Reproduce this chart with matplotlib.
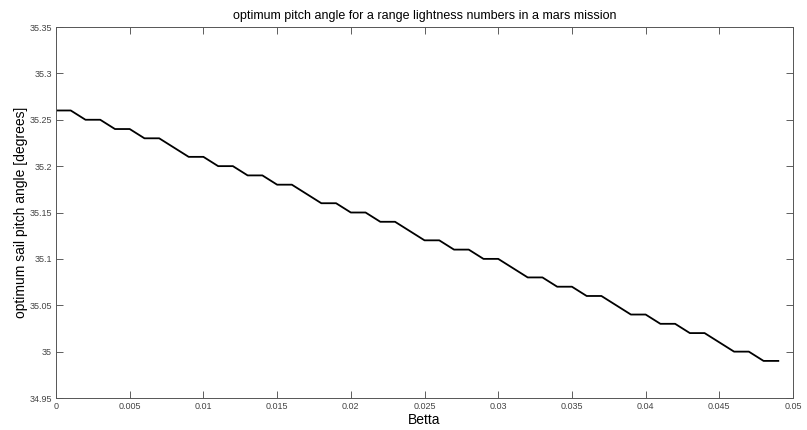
import numpy as np
import matplotlib.pyplot as plt

# lightness number and optimum pitch angle (rounded to 0.01 deg)
betta = np.arange(0, 0.050, 0.001)
pitch = np.array([35.26, 35.26, 35.25, 35.25, 35.24, 35.24, 35.23, 35.23, 35.22, 35.21,
                  35.21, 35.20, 35.20, 35.19, 35.19, 35.18, 35.18, 35.17, 35.16, 35.16,
                  35.15, 35.15, 35.14, 35.14, 35.13, 35.12, 35.12, 35.11, 35.11, 35.10,
                  35.10, 35.09, 35.08, 35.08, 35.07, 35.07, 35.06, 35.06, 35.05, 35.04,
                  35.04, 35.03, 35.03, 35.02, 35.02, 35.01, 35.00, 35.00, 34.99, 34.99])

xticks = np.arange(0, 0.0501, 0.005)
xtick_labels = ['0', '0.005', '0.01', '0.015', '0.02', '0.025', '0.03', '0.035', '0.04', '0.045', '0.05']
yticks = np.arange(34.95, 35.351, 0.05)
ytick_labels = ['34.95', '35', '35.05', '35.1', '35.15', '35.2', '35.25', '35.3', '35.35']

plt.rcParams['font.family'] = ['Liberation Sans', 'DejaVu Sans']
fig = plt.figure(figsize=(8.07, 4.30), dpi=100)
ax = fig.add_axes([0.0694, 0.0744, 0.9133, 0.8628])
ax.plot(betta, pitch, color='black', linewidth=1.3)
ax.set_xlim(0, 0.05)
ax.set_ylim(34.95, 35.35)
ax.set_xticks(xticks)
ax.set_xticklabels(xtick_labels)
ax.set_yticks(yticks)
ax.set_yticklabels(ytick_labels)
ax.tick_params(direction='in', length=5, width=0.6, labelsize=6.5, colors='#444444',
               top=True, right=True, pad=3)
for s in ax.spines.values():
    s.set_linewidth(0.7)
    s.set_color('#555555')
ax.set_xlabel('Betta', fontsize=10, labelpad=1)
ax.set_ylabel('optimum sail pitch angle [degrees]', fontsize=10, labelpad=1)
ax.set_title('optimum pitch angle for a range lightness numbers in a mars mission', fontsize=9, pad=6)
fig.savefig('out.png', dpi=100)
